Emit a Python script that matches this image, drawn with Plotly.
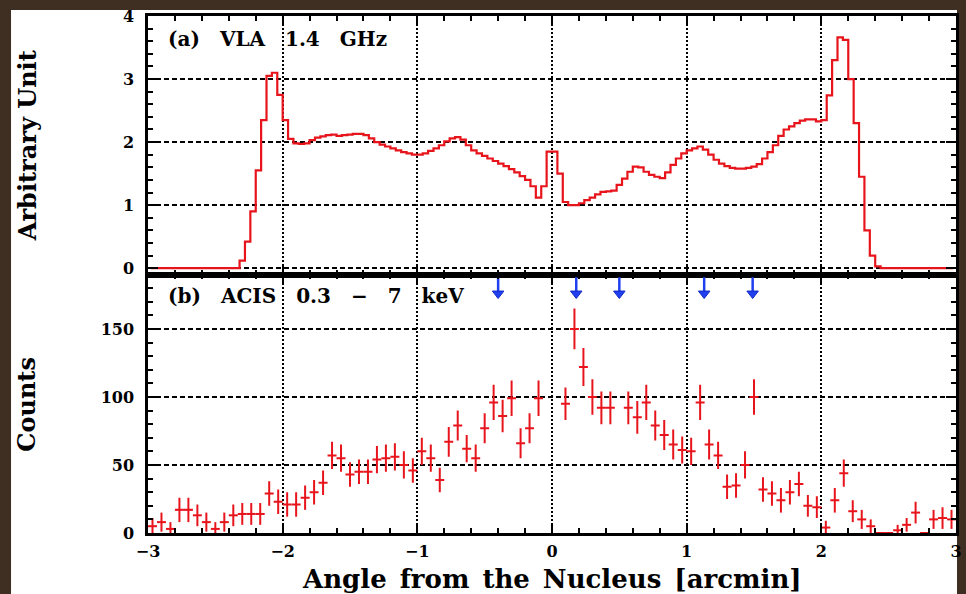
import numpy as np
import plotly.graph_objects as go

# ---- (a) VLA 1.4 GHz brightness profile (0.04 arcmin bins from -3 to 3) ----
radio_bin = 0.04
radio_flux = [
    0.00, 0.00, 0.00, 0.00, 0.00, 0.00, 0.00, 0.00, 0.00, 0.00,
    0.00, 0.00, 0.00, 0.00, 0.00, 0.00, 0.00, 0.12, 0.42, 0.90,
    1.55, 2.35, 3.05, 3.10, 2.75, 2.35, 2.05, 1.98, 1.97, 1.98,
    2.03, 2.07, 2.09, 2.11, 2.12, 2.10, 2.11, 2.12, 2.13, 2.13,
    2.11, 2.06, 2.00, 1.96, 1.93, 1.90, 1.87, 1.84, 1.82, 1.80,
    1.80, 1.82, 1.86, 1.90, 1.95, 2.01, 2.06, 2.08, 2.04, 1.95,
    1.87, 1.82, 1.78, 1.74, 1.70, 1.66, 1.62, 1.57, 1.52, 1.46,
    1.40, 1.30, 1.12, 1.30, 1.85, 1.85, 1.50, 1.05, 1.00, 1.00,
    1.03, 1.08, 1.12, 1.17, 1.21, 1.22, 1.23, 1.32, 1.42, 1.53,
    1.61, 1.60, 1.53, 1.48, 1.45, 1.43, 1.52, 1.64, 1.74, 1.82,
    1.87, 1.90, 1.93, 1.88, 1.80, 1.72, 1.66, 1.62, 1.59, 1.58,
    1.58, 1.59, 1.61, 1.65, 1.74, 1.84, 1.95, 2.10, 2.20, 2.25,
    2.30, 2.34, 2.36, 2.36, 2.33, 2.35, 2.74, 3.30, 3.66, 3.62,
    3.00, 2.30, 1.45, 0.60, 0.20, 0.03, 0.00, 0.00, 0.00, 0.00,
    0.00, 0.00, 0.00, 0.00, 0.00, 0.00, 0.00, 0.00, 0.00, 0.00,
]
radio_x = -3 + radio_bin * (np.arange(len(radio_flux)) + 0.5)

# ---- (b) ACIS 0.3-7 keV counts (1/15 arcmin bins); None = nucleus bins left out ----
acis_bin = 1 / 15
acis_counts = [
    5, 8, 3, 17, 17, 13, 8, 3, 8, 13,
    14, 14, 14, 29, 23, 21, 21, 26, 30, 37,
    57, 55, 43, 45, 45, 54, 55, 56, 50, 46,
    60, 55, 39, 67, 79, 62, 55, 77, 96, 86,
    99, 66, 77, 99, None, None, 95, 150, 122, 100,
    92, 92, None, 92, 85, 96, 79, 72, 65, 61,
    60, 96, 65, 57, 34, 35, 50, 100, 32, 29,
    24, 30, 36, 20, 19, 4, 24, 44, 16, 10,
    5, 0, 0, 2, 6, 15, 0, 10, 11, 10,
]
acis_err = [
    6, 7, 5, 9, 9, 8, 7, 5, 7, 8,
    8, 8, 8, 9, 9, 9, 9, 9, 9, 9,
    10, 10, 9, 9, 9, 10, 10, 10, 10, 9,
    10, 10, 9, 11, 11, 10, 10, 11, 13, 12,
    13, 11, 11, 13, 0, 0, 12, 15, 14, 13,
    12, 12, 0, 12, 12, 13, 11, 11, 11, 10,
    10, 13, 11, 10, 9, 9, 10, 13, 9, 9,
    9, 9, 9, 8, 8, 5, 9, 10, 8, 7,
    5, 0, 0, 4, 5, 8, 0, 7, 8, 7,
]
acis_x = -3 + acis_bin * (np.arange(len(acis_counts)) + 0.5)

# positions marked by blue arrows in panel (b)
arrow_x = [-0.40, 0.18, 0.50, 1.13, 1.49]

RED = "#e8141c"
BLUE = "#2040f0"
FONT = "DejaVu Serif"
EM = "\u2003"
EN = "\u2002"

fig = go.Figure()

fig.add_trace(go.Scatter(
    x=radio_x, y=radio_flux, mode="lines",
    line=dict(color=RED, width=2.2, shape="hvh"),
    xaxis="x", yaxis="y", showlegend=False, hoverinfo="skip",
))

fig.add_trace(go.Scatter(
    x=acis_x, y=acis_counts, mode="markers",
    marker=dict(size=2, color=RED, opacity=0),
    error_x=dict(type="constant", value=acis_bin / 2, thickness=2, width=0, color=RED),
    error_y=dict(type="data", array=acis_err, thickness=2, width=0, color=RED),
    xaxis="x2", yaxis="y2", showlegend=False, hoverinfo="skip",
))

fig.add_trace(go.Scatter(
    x=arrow_x, y=[176] * len(arrow_x), mode="markers",
    marker=dict(symbol="triangle-down", size=10, color=BLUE,
                line=dict(color="#1028c8", width=1)),
    error_y=dict(type="data", symmetric=False, array=[12] * len(arrow_x),
                 arrayminus=[0] * len(arrow_x), thickness=2.5, width=0, color=BLUE),
    xaxis="x2", yaxis="y2", showlegend=False, hoverinfo="skip",
))

tickfont = dict(family=FONT, size=16, color="black", weight="bold")

x_common = dict(
    range=[-3, 3], tickmode="linear", tick0=-3, dtick=1,
    ticks="inside", ticklen=10, tickwidth=2, tickcolor="black",
    showline=True, linecolor="black", linewidth=2.5, mirror="allticks",
    showgrid=True, gridcolor="black", griddash="2px,2px", gridwidth=2,
    zeroline=False,
    minor=dict(dtick=0.2, ticks="inside", ticklen=5, tickwidth=1.5,
               tickcolor="black", showgrid=False),
    tickfont=tickfont, ticklabelstandoff=2,
)
y_common = dict(
    ticks="inside", ticklen=10, tickwidth=2, tickcolor="black",
    showline=True, linecolor="black", linewidth=2.5, mirror="allticks",
    showgrid=True, gridcolor="black", griddash="5px,3px", gridwidth=1.8,
    zeroline=False, tickfont=tickfont, ticklabelstandoff=8,
)

fig.update_layout(
    width=966, height=594,
    margin=dict(l=148, r=4, t=16, b=61),
    paper_bgcolor="#3f2e22", plot_bgcolor="white",
    xaxis=dict(**x_common, domain=[0, 1], anchor="y", showticklabels=False, matches="x2"),
    xaxis2=dict(**x_common, domain=[0, 1], anchor="y2"),
    yaxis=dict(**y_common, domain=[0.5, 1], anchor="x", range=[-0.1, 4],
               tickmode="linear", tick0=0, dtick=1,
               minor=dict(dtick=0.2, tick0=0, ticks="inside", ticklen=5, tickwidth=1.5,
                          tickcolor="black", showgrid=False)),
    yaxis2=dict(**y_common, domain=[0, 0.5], anchor="x2", range=[0, 190],
                tickmode="linear", tick0=0, dtick=50,
                minor=dict(dtick=10, tick0=0, ticks="inside", ticklen=5, tickwidth=1.5,
                           tickcolor="black", showgrid=False)),
    shapes=[dict(type="rect", xref="paper", yref="paper", layer="below",
                 x0=(10 - 148) / 814, x1=(963 - 148) / 814,
                 y0=(533 - 600) / 517, y1=(533 - 10) / 517,
                 fillcolor="white", line=dict(width=0))],
    annotations=[
        dict(text=EM.join(["(a)", "VLA", "1.4", "GHz"]), xref="x", yref="y", x=-2.87, y=3.63,
             xanchor="left", yanchor="middle", showarrow=False,
             font=dict(family=FONT, size=20, color="black", weight="bold")),
        dict(text=EM.join(["(b)", "ACIS", "0.3", "\u2212", "7", "keV"]), xref="x2", yref="y2",
             x=-2.87, y=174.5, xanchor="left", yanchor="middle", showarrow=False,
             font=dict(family=FONT, size=20, color="black", weight="bold")),
        dict(text="Arbitrary Unit", xref="paper", yref="paper", x=(26 - 148) / 814, y=0.75,
             xanchor="center", yanchor="middle", textangle=-90, showarrow=False,
             font=dict(family=FONT, size=24, color="black", weight="bold")),
        dict(text="Counts", xref="paper", yref="paper", x=(26 - 148) / 814, y=0.25,
             xanchor="center", yanchor="middle", textangle=-90, showarrow=False,
             font=dict(family=FONT, size=24, color="black", weight="bold")),
        dict(text=EN.join(["Angle", "from", "the", "Nucleus", "[arcmin]"]),
             xref="paper", yref="paper",
             x=0.5, y=(533 - 579) / 517, xanchor="center", yanchor="middle", showarrow=False,
             font=dict(family=FONT, size=26, color="black", weight="bold")),
    ],
)

fig.write_html("out.html")
